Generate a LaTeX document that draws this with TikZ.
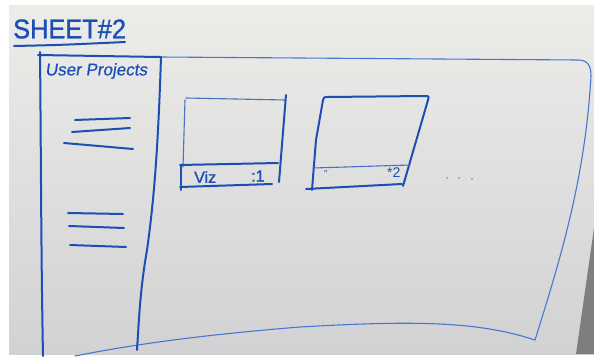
\documentclass[tikz,border=0pt]{standalone}
\usepackage{fontspec}
\setmainfont{Liberation Sans}
\newfontfamily\handbold[FakeBold=1.2]{Liberation Sans}
\newfontfamily\handslant[FakeSlant=0.15,FakeBold=0.4]{Liberation Sans}
\begin{document}
\begin{tikzpicture}[x=1pt,y=-1pt,
  ink/.style={draw=inkblue,line width=2pt,line cap=round,line join=round},
  thinink/.style={draw=inkblue!80,line width=1.1pt,line cap=round,line join=round},
  frame/.style={draw=frameblue,line width=1.1pt,line cap=round,line join=round},
  hand/.style={text=inkblue,inner sep=0pt,anchor=west}]
\definecolor{inkblue}{RGB}{28,78,180}
\definecolor{frameblue}{RGB}{70,120,210}
\definecolor{boardtop}{RGB}{236,236,233}
\definecolor{boardbot}{RGB}{210,210,212}
\useasboundingbox (0,0) rectangle (594,356);
\fill[white] (0,0) rectangle (594,356);
\shade[top color=boardtop,bottom color=boardbot] (9,5) rectangle (594,354);
\fill[gray!55!black!70] (594,228) -- (594,354) -- (576,354) -- cycle;
% title
\node[hand,font=\fontsize{27}{27}\selectfont\handbold,xscale=0.94] (title) at (13,29) {SHEET\#2};
\draw[ink] (14,46) .. controls (60,45) .. (125,42);
% outer frame
\coordinate (ftl) at (38,55);
\coordinate (fsr) at (160,57);
\coordinate (ftr) at (578,60);
\coordinate (fcr) at (591,76);
\coordinate (fbr) at (535,340);
\coordinate (fbl) at (75,356);
\draw[frame] (fsr) -- (ftr) .. controls (588,60) and (591,66) .. (fcr)
  .. controls (585,180) and (560,260) .. (fbr)
  .. controls (480,322) and (420,320) .. (300,327)
  .. controls (200,335) and (130,345) .. (fbl);
% sidebar
\draw[ink] (ftl) -- (fsr);
\draw[ink] (40,52) .. controls (41,150) and (41,250) .. (43,356);
\draw[ink] (161,57) .. controls (158,150) and (154,200) .. (147,250)
  .. controls (140,290) and (139,320) .. (137,350);
\node[hand,font=\fontsize{17}{17}\selectfont\handslant] (uproj) at (45,71) {User Projects};
% list lines
\draw[ink] (75,120) -- (130,118);
\draw[ink] (72,132) -- (130,128);
\draw[ink] (64,143) -- (133,149);
\draw[ink] (68,213) -- (123,214);
\draw[ink] (69,226) -- (124,228);
\draw[ink] (70,245) -- (126,247);
% card 1
\draw[thinink] (186,98) -- (285,100);
\draw[thinink] (185,100) -- (183,167);
\draw[ink] (286,95) -- (279,182);
\draw[ink] (180,165) -- (278,163);
\draw[ink] (180,187) -- (272,184);
\draw[ink] (181,165) -- (181,190);
\node[hand,font=\fontsize{16}{16}\selectfont\handbold] (viz) at (194,177) {Viz};
\node[hand,font=\fontsize{16}{16}\selectfont\handbold] (num1) at (251,176) {:1};
% card 2
\draw[ink] (316,140) -- (323,100) .. controls (324,97) .. (327,97) -- (425,96)
  .. controls (429,96) .. (428,100) -- (403,186);
\draw[ink] (316,140) -- (312,190);
\draw[thinink] (313,168) -- (410,165);
\draw[ink] (306,189) -- (402,184);
\node[hand,font=\fontsize{10}{10}\selectfont] (q2) at (324,174) {"};
\node[hand,font=\fontsize{14}{14}\selectfont] (num2) at (387,173) {*2};
% dots
\fill[inkblue!70] (447,178) circle (0.9) (459,178) circle (0.9) (472,179) circle (0.9);
\end{tikzpicture}
\end{document}
